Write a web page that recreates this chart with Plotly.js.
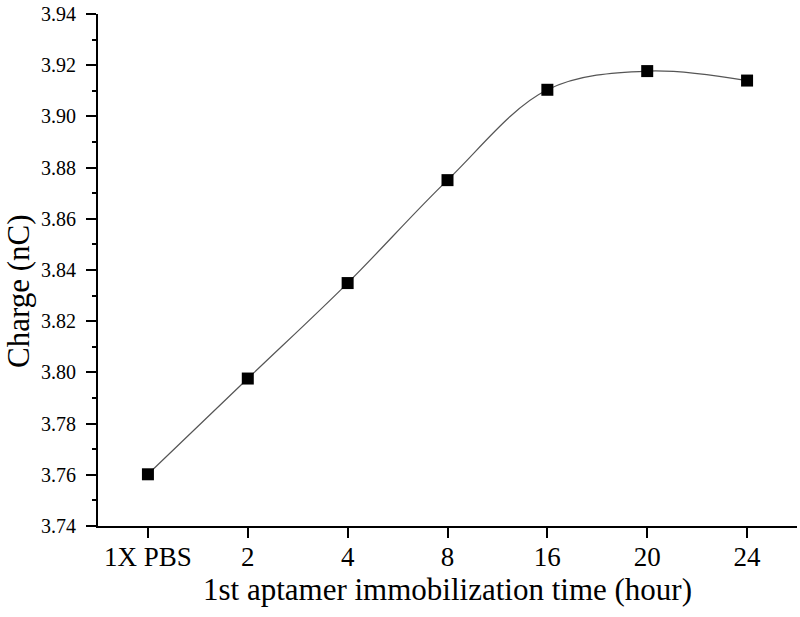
<!DOCTYPE html>
<html>
<head>
<meta charset="utf-8">
<script src="https://cdn.plot.ly/plotly-3.0.1.min.js"></script>
<style>html,body{margin:0;padding:0;background:#fff;}#chart{width:800px;height:617px;}</style>
</head>
<body>
<div id="chart"></div>
<script>
const categories = ["1X PBS", "2", "4", "8", "16", "20", "24"];
const charge = [3.7602, 3.7976, 3.8349, 3.8751, 3.9104, 3.9177, 3.9140];
const yTickVals = [3.74, 3.76, 3.78, 3.80, 3.82, 3.84, 3.86, 3.88, 3.90, 3.92, 3.94];
const yTickText = yTickVals.map(v => v.toFixed(2));
const xTitle = "1st aptamer immobilization time (hour)";
const yTitle = "Charge (nC)";

const font = "'Liberation Serif', 'Times New Roman', serif";

Plotly.newPlot("chart", [{
  x: categories,
  y: charge,
  type: "scatter",
  mode: "lines+markers",
  line: {shape: "spline", smoothing: 1, color: "#555", width: 1.2},
  marker: {symbol: "square", size: 12, color: "#000"},
  showlegend: false
}], {
  width: 800, height: 617,
  margin: {l: 98, r: 3, t: 14, b: 91},
  paper_bgcolor: "#fff", plot_bgcolor: "#fff",
  font: {family: font, color: "#000"},
  xaxis: {
    type: "category",
    range: [-0.5, 6.5],
    showline: true, linecolor: "#000", linewidth: 2,
    ticks: "outside", ticklen: 10, tickwidth: 2, tickcolor: "#000",
    tickfont: {family: font, size: 27, color: "#000"},
    ticklabelstandoff: -4,
    showgrid: false, zeroline: false,
    title: {text: xTitle, font: {family: font, size: 31, color: "#000"}, standoff: 4}
  },
  yaxis: {
    range: [3.74, 3.94],
    tickvals: yTickVals, ticktext: yTickText,
    showline: true, linecolor: "#000", linewidth: 2,
    ticks: "outside", ticklen: 10, tickwidth: 2, tickcolor: "#000",
    minor: {dtick: 0.01, tick0: 3.74, ticks: "outside", ticklen: 4, tickwidth: 2, tickcolor: "#000", showgrid: false},
    tickfont: {family: font, size: 20, color: "#000"},
    ticklabelstandoff: 6,
    showgrid: false, zeroline: false
  },
  annotations: [{
    text: yTitle, textangle: -90,
    xref: "paper", yref: "paper",
    x: (18 - 98) / 699, y: (526 - 291) / 512,
    xanchor: "center", yanchor: "middle",
    showarrow: false,
    font: {family: font, size: 31, color: "#000"}
  }]
}, {displayModeBar: false, staticPlot: true});
</script>
</body>
</html>
